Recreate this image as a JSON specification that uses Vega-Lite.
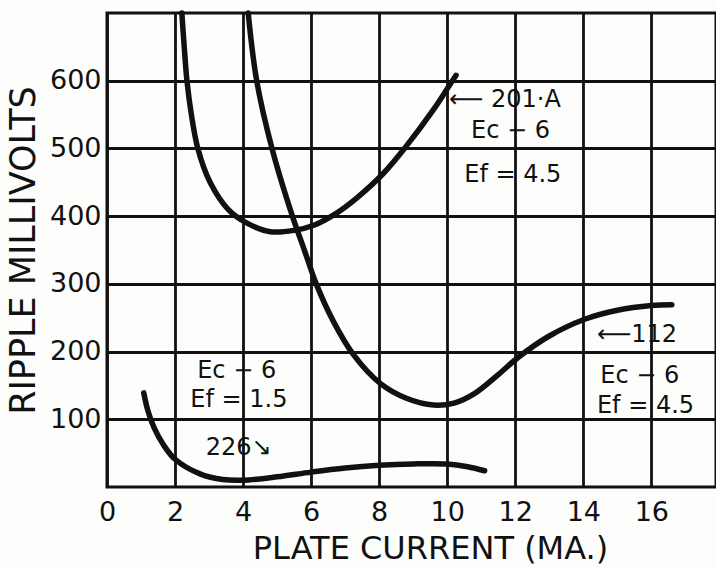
{
  "$schema": "https://vega.github.io/schema/vega-lite/v6.json",
  "width": 609,
  "height": 474,
  "autosize": {"type": "none"},
  "padding": {"left": 107, "top": 13, "right": 0, "bottom": 80},
  "background": "#fdfdfb",
  "config": {
    "font": "DejaVu Sans",
    "view": {"stroke": "#111", "strokeWidth": 3},
    "axis": {
      "grid": true, "gridColor": "#111", "gridWidth": 2.8, "gridOpacity": 1,
      "domain": false, "ticks": false,
      "labelFont": "DejaVu Sans", "labelFontSize": 27, "labelColor": "#111",
      "titleFont": "DejaVu Sans", "titleFontWeight": "normal", "titleColor": "#111"
    }
  },
  "datasets": {
    "curves": [
      {"tube": "201-A", "ma": 2.2, "mv": 700},
      {"tube": "201-A", "ma": 2.27, "mv": 650},
      {"tube": "201-A", "ma": 2.35, "mv": 600},
      {"tube": "201-A", "ma": 2.48, "mv": 550},
      {"tube": "201-A", "ma": 2.67, "mv": 500},
      {"tube": "201-A", "ma": 3.03, "mv": 450},
      {"tube": "201-A", "ma": 3.56, "mv": 410},
      {"tube": "201-A", "ma": 4.1, "mv": 390},
      {"tube": "201-A", "ma": 4.8, "mv": 377},
      {"tube": "201-A", "ma": 5.5, "mv": 379},
      {"tube": "201-A", "ma": 6.1, "mv": 387},
      {"tube": "201-A", "ma": 6.7, "mv": 403},
      {"tube": "201-A", "ma": 7.32, "mv": 426},
      {"tube": "201-A", "ma": 8.12, "mv": 463},
      {"tube": "201-A", "ma": 8.79, "mv": 503},
      {"tube": "201-A", "ma": 9.59, "mv": 557},
      {"tube": "201-A", "ma": 10.0, "mv": 588},
      {"tube": "201-A", "ma": 10.26, "mv": 608},
      {"tube": "112", "ma": 4.15, "mv": 700},
      {"tube": "112", "ma": 4.4, "mv": 600},
      {"tube": "112", "ma": 4.85, "mv": 500},
      {"tube": "112", "ma": 5.45, "mv": 400},
      {"tube": "112", "ma": 5.8, "mv": 350},
      {"tube": "112", "ma": 6.15, "mv": 300},
      {"tube": "112", "ma": 6.65, "mv": 245},
      {"tube": "112", "ma": 7.25, "mv": 195},
      {"tube": "112", "ma": 8.03, "mv": 153},
      {"tube": "112", "ma": 8.8, "mv": 131},
      {"tube": "112", "ma": 9.6, "mv": 121},
      {"tube": "112", "ma": 10.2, "mv": 124},
      {"tube": "112", "ma": 10.8, "mv": 138},
      {"tube": "112", "ma": 11.5, "mv": 166},
      {"tube": "112", "ma": 12.1, "mv": 192},
      {"tube": "112", "ma": 13.0, "mv": 223},
      {"tube": "112", "ma": 14.0, "mv": 247},
      {"tube": "112", "ma": 15.0, "mv": 261},
      {"tube": "112", "ma": 16.0, "mv": 268},
      {"tube": "112", "ma": 16.6, "mv": 269},
      {"tube": "226", "ma": 1.08, "mv": 139},
      {"tube": "226", "ma": 1.2, "mv": 113},
      {"tube": "226", "ma": 1.38, "mv": 88},
      {"tube": "226", "ma": 1.65, "mv": 63},
      {"tube": "226", "ma": 2.0, "mv": 41},
      {"tube": "226", "ma": 2.75, "mv": 19},
      {"tube": "226", "ma": 3.4, "mv": 11},
      {"tube": "226", "ma": 4.0, "mv": 10},
      {"tube": "226", "ma": 5.0, "mv": 15},
      {"tube": "226", "ma": 6.0, "mv": 22},
      {"tube": "226", "ma": 7.0, "mv": 28},
      {"tube": "226", "ma": 8.0, "mv": 32},
      {"tube": "226", "ma": 9.0, "mv": 34},
      {"tube": "226", "ma": 10.0, "mv": 34},
      {"tube": "226", "ma": 10.6, "mv": 30},
      {"tube": "226", "ma": 11.1, "mv": 24}
    ],
    "notes": [
      {"ma": 10.05, "mv": 572, "label": "⟵ 201·A"},
      {"ma": 10.7, "mv": 526, "label": "Ec − 6"},
      {"ma": 10.5, "mv": 461, "label": "Ef = 4.5"},
      {"ma": 14.4, "mv": 224, "label": "⟵112"},
      {"ma": 14.5, "mv": 164, "label": "Ec − 6"},
      {"ma": 14.4, "mv": 119, "label": "Ef = 4.5"},
      {"ma": 2.65, "mv": 172, "label": "Ec − 6"},
      {"ma": 2.45, "mv": 128, "label": "Ef = 1.5"},
      {"ma": 2.9, "mv": 58, "label": "226↘"}
    ]
  },
  "layer": [
    {
      "data": {"name": "curves"},
      "mark": {"type": "line", "interpolate": "catmull-rom", "color": "#111", "strokeWidth": 5.5, "strokeCap": "round"},
      "encoding": {
        "x": {
          "field": "ma", "type": "quantitative",
          "scale": {"domain": [0, 17.9], "nice": false, "zero": false},
          "axis": {"values": [0, 2, 4, 6, 8, 10, 12, 14, 16], "labelPadding": 12, "labelFlush": false,
                   "title": "PLATE CURRENT (MA.)", "titleFontSize": 32, "titlePadding": 8, "titleX": 323}
        },
        "y": {
          "field": "mv", "type": "quantitative",
          "scale": {"domain": [0, 700], "nice": false},
          "axis": {"values": [100, 200, 300, 400, 500, 600], "labelPadding": 6,
                   "title": "RIPPLE MILLIVOLTS", "titleFontSize": 35, "titlePadding": 8}
        },
        "detail": {"field": "tube"},
        "order": {"field": "ma", "type": "quantitative"}
      }
    },
    {
      "data": {"name": "notes"},
      "mark": {"type": "text", "align": "left", "baseline": "middle", "fontSize": 24, "color": "#111", "font": "DejaVu Sans"},
      "encoding": {
        "x": {"field": "ma", "type": "quantitative"},
        "y": {"field": "mv", "type": "quantitative"},
        "text": {"field": "label"}
      }
    }
  ]
}
